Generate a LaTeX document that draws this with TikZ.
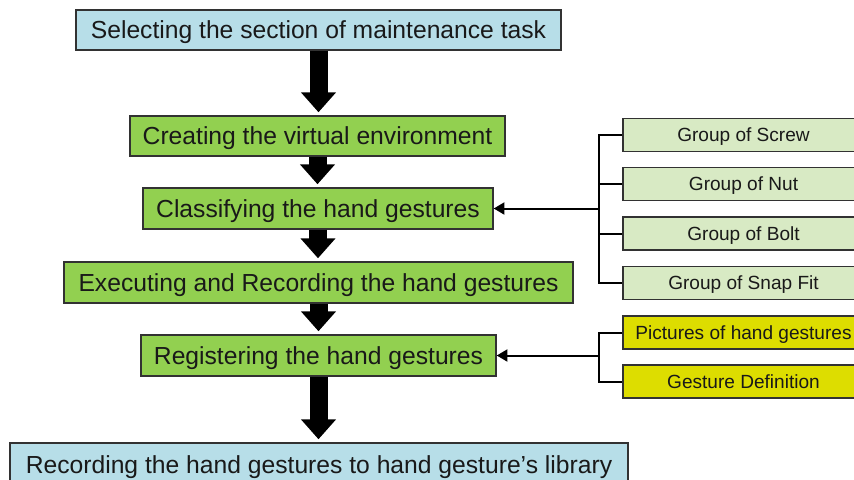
\documentclass[tikz,border=0pt]{standalone}
\usepackage{fontspec}
\setmainfont{Liberation Sans}
\usetikzlibrary{arrows.meta}
\definecolor{boxblue}{RGB}{183,222,232}
\definecolor{boxgreen}{RGB}{146,208,80}
\definecolor{lightgreen}{RGB}{216,234,196}
\definecolor{boxyellow}{RGB}{221,221,0}
\definecolor{edge}{RGB}{50,50,50}
\begin{document}
\begin{tikzpicture}[x=0.75pt,y=-0.75pt,
 box/.style={draw=edge, line width=1.1pt, inner sep=0pt, font=\fontsize{18.5pt}{20pt}\selectfont, text=black!90, text height=13.25pt, text depth=0pt},
 bluebox/.style={box, fill=boxblue},
 greenbox/.style={box, fill=boxgreen},
 sidebox/.style={draw=edge, line width=1pt, inner sep=0pt, font=\fontsize{14.3pt}{16pt}\selectfont, text=black!90, text height=10.24pt, text depth=0pt, minimum width={241*0.75pt}, minimum height={33*0.75pt}},
 groupbox/.style={sidebox, fill=lightgreen},
 yellowbox/.style={sidebox, fill=boxyellow},
 bigarrow/.style={line width=13.5pt, -{Triangle[length=15pt,width=25.5pt]}, shorten >=2.25pt},
 thinarrow/.style={line width=1.5pt, -{Triangle[length=8pt,width=9pt]}},
 bracket/.style={line width=1.5pt}]
\useasboundingbox (0,0) rectangle (854,479);
\clip (0,0) rectangle (854,479);
\fill[white] (0,0) rectangle (854,479);

% main flow
\node[bluebox, minimum width={485*0.75pt}, minimum height={40*0.75pt}] (b1) at (318.5,30) {Selecting the section of maintenance task};
\node[greenbox, minimum width={375*0.75pt}, minimum height={40*0.75pt}] (b2) at (317.5,136) {Creating the virtual environment};
\node[greenbox, minimum width={350*0.75pt}, minimum height={41*0.75pt}] (b3) at (318,208.5) {Classifying the hand gestures};
\node[greenbox, minimum width={509*0.75pt}, minimum height={41*0.75pt}] (b4) at (318.5,282.5) {Executing and Recording the hand gestures};
\node[greenbox, minimum width={355*0.75pt}, minimum height={41*0.75pt}] (b5) at (318.5,355.5) {Registering the hand gestures};
\node[bluebox, minimum width={618*0.75pt}, minimum height={44*0.75pt}] (b6) at (319,465) {Recording the hand gestures to hand gesture’s library};

\draw[bigarrow] (b1.south) -- (b1.south |- b2.north);
\draw[bigarrow] (b2.south) -- (b2.south |- b3.north);
\draw[bigarrow] (b3.south) -- (b3.south |- b4.north);
\draw[bigarrow] (b4.south) -- (b4.south |- b5.north);
\draw[bigarrow] (b5.south) -- (b5.south |- b6.north);

% side groups
\node[groupbox] (g1) at (743.5,135) {Group of Screw};
\node[groupbox] (g2) at (743.5,184) {Group of Nut};
\node[groupbox] (g3) at (743.5,233.5) {Group of Bolt};
\node[groupbox] (g4) at (743.5,283) {Group of Snap Fit};
\node[yellowbox] (y1) at (743.5,332.5) {Pictures of hand gestures};
\node[yellowbox] (y2) at (743.5,381.5) {Gesture Definition};

\coordinate (bx) at (599,0);
\draw[bracket] (g1.west) -- (g1.west -| bx) -- (g4.west -| bx) -- (g4.west);
\draw[bracket] (g2.west) -- (g2.west -| bx);
\draw[bracket] (g3.west) -- (g3.west -| bx);
\draw[thinarrow] (b3.east -| bx) -- (b3.east);

\draw[bracket] (y1.west) -- (y1.west -| bx) -- (y2.west -| bx) -- (y2.west);
\draw[thinarrow] (b5.east -| bx) -- (b5.east);
\end{tikzpicture}
\end{document}
